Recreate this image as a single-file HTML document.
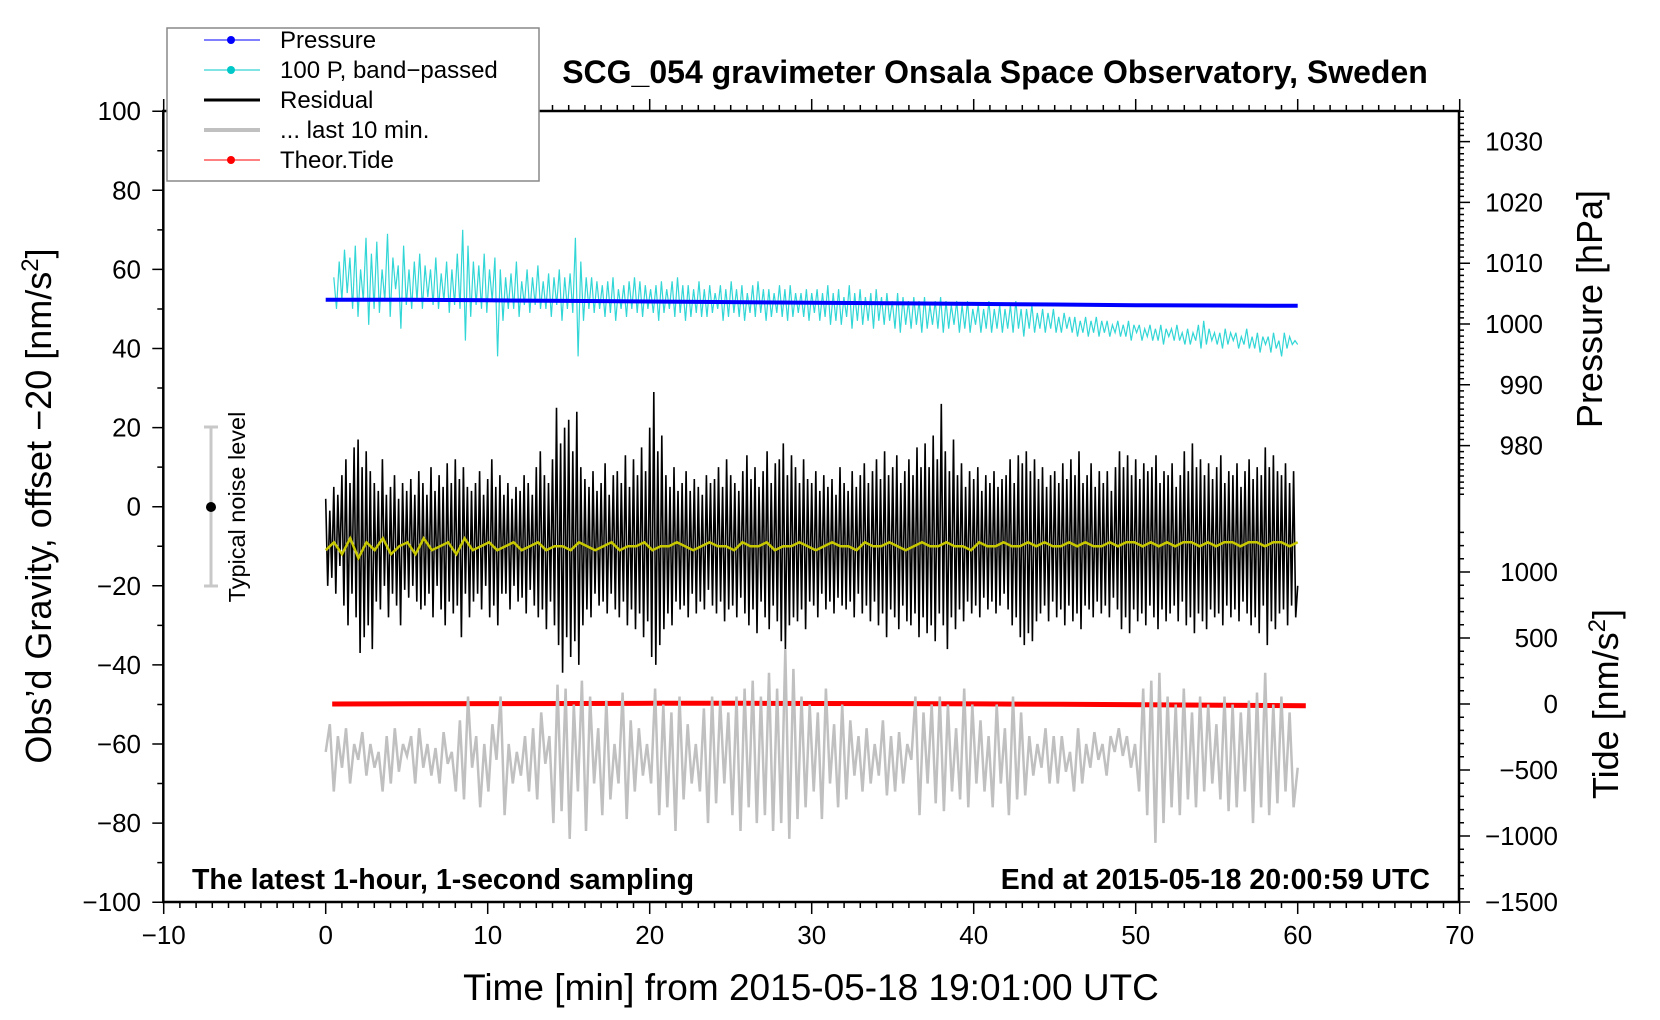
<!DOCTYPE html>
<html><head><meta charset="utf-8"><style>
html,body{margin:0;padding:0;background:#fff;}
svg{display:block;font-family:"Liberation Sans",Arial,sans-serif;}
</style></head><body>
<svg id="chart" width="1660" height="1020" viewBox="0 0 1660 1020">
<g id="marks"></g>
<g id="axes"></g>
<text x="995" y="83" font-size="32" font-weight="bold" text-anchor="middle">SCG_054 gravimeter Onsala Space Observatory, Sweden</text>
<text x="192" y="889" font-size="28.5" font-weight="bold">The latest 1-hour, 1-second sampling</text>
<text x="1430" y="889" font-size="28.5" font-weight="bold" text-anchor="end">End at 2015-05-18 20:00:59 UTC</text>
<text x="811" y="1000" font-size="37" text-anchor="middle">Time [min] from 2015-05-18 19:01:00 UTC</text>
<text transform="translate(51,506) rotate(-90)" font-size="36" text-anchor="middle">Obs’d Gravity, offset −20 [nm/s<tspan font-size="24" dy="-13">2</tspan><tspan dy="13">]</tspan></text>
<text transform="translate(1602,309) rotate(-90)" font-size="36" text-anchor="middle">Pressure [hPa]</text>
<text transform="translate(1618,704) rotate(-90)" font-size="36" text-anchor="middle">Tide [nm/s<tspan font-size="24" dy="-13">2</tspan><tspan dy="13">]</tspan></text>
<g>
<line x1="211" y1="427" x2="211" y2="586" stroke="#c8c8c8" stroke-width="3"/>
<line x1="204" y1="427" x2="218" y2="427" stroke="#c8c8c8" stroke-width="3"/>
<line x1="204" y1="586" x2="218" y2="586" stroke="#c8c8c8" stroke-width="3"/>
<circle cx="211" cy="507" r="5" fill="#000"/>
<text transform="translate(245,507) rotate(-90)" font-size="23.5" text-anchor="middle">Typical noise level</text>
</g>
<g>
<rect x="167" y="28" width="372" height="153" fill="#fff" stroke="#888" stroke-width="1.5"/>
<g><line x1="204" y1="40" x2="260" y2="40" stroke="#0000ff" stroke-width="1"/><circle cx="231" cy="40" r="4" fill="#0000ff"/><text x="280" y="48" font-size="24">Pressure</text></g>
<g><line x1="204" y1="70" x2="260" y2="70" stroke="#00c8c8" stroke-width="1"/><circle cx="231" cy="70" r="4" fill="#00c8c8"/><text x="280" y="78" font-size="24">100 P, band−passed</text></g>
<g><line x1="204" y1="100" x2="260" y2="100" stroke="#000" stroke-width="3"/><text x="280" y="108" font-size="24">Residual</text></g>
<g><line x1="204" y1="130" x2="260" y2="130" stroke="#c0c0c0" stroke-width="4"/><text x="280" y="138" font-size="24">... last 10 min.</text></g>
<g><line x1="204" y1="160" x2="260" y2="160" stroke="#ff0000" stroke-width="1"/><circle cx="231" cy="160" r="4" fill="#ff0000"/><text x="280" y="168" font-size="24">Theor.Tide</text></g>
</g>
</svg>
<script>
const xTicks=[-10,0,10,20,30,40,50,60,70];
const yTicks=[-100,-80,-60,-40,-20,0,20,40,60,80,100];
const pTicks=[980,990,1000,1010,1020,1030];
const tTicks=[-1500,-1000,-500,0,500,1000];
const residual=[2,-20,-1,-18,5,-22,3,-15,8,-25,12,-30,6,-22,15,-28,17,-37,10,-33,14,-30,9,-36,6,-24,4,-26,12,-20,3,-28,5,-22,8,-25,2,-30,6,-21,4,-23,7,-20,3,-24,9,-26,6,-25,3,-22,10,-28,4,-20,8,-26,5,-30,11,-24,6,-27,12,-25,7,-33,10,-22,5,-28,4,-24,6,-22,9,-26,3,-20,7,-28,12,-25,5,-30,8,-22,3,-22,6,-26,2,-20,5,-24,4,-23,8,-27,6,-21,3,-25,10,-28,14,-26,8,-31,6,-24,12,-30,25,-35,16,-42,20,-33,22,-38,14,-34,24,-40,10,-30,7,-26,5,-28,9,-22,4,-25,6,-24,11,-27,3,-22,8,-26,9,-28,6,-24,13,-30,5,-26,12,-31,8,-27,15,-33,9,-29,20,-38,29,-40,14,-35,18,-31,8,-27,5,-30,10,-24,4,-26,6,-25,9,-28,4,-22,7,-27,5,-24,3,-26,8,-21,6,-25,7,-27,10,-24,5,-29,12,-26,8,-25,6,-28,4,-23,9,-27,13,-30,7,-26,10,-32,5,-24,9,-28,14,-31,6,-25,11,-29,12,-34,16,-36,8,-30,13,-28,10,-29,6,-26,12,-31,7,-24,6,-25,9,-28,4,-22,8,-26,5,-24,7,-27,3,-23,10,-25,6,-26,4,-24,9,-28,5,-22,8,-27,11,-25,6,-29,9,-24,12,-30,7,-27,14,-33,8,-26,10,-28,13,-31,6,-25,9,-29,12,-30,8,-27,15,-33,10,-28,16,-32,10,-30,18,-34,12,-27,26,-30,14,-36,9,-28,17,-31,8,-26,11,-29,5,-24,9,-27,7,-25,10,-28,4,-23,8,-26,6,-24,9,-27,5,-25,7,-22,8,-26,12,-30,6,-28,13,-33,11,-35,14,-32,9,-34,12,-29,7,-27,10,-25,5,-29,8,-24,9,-28,6,-26,11,-30,7,-25,12,-29,8,-27,14,-31,6,-25,8,-26,11,-28,5,-24,9,-27,6,-25,9,-28,4,-23,10,-26,14,-31,10,-28,13,-32,8,-26,12,-29,7,-27,11,-30,9,-25,10,-28,13,-31,6,-26,9,-29,8,-27,11,-25,5,-29,8,-24,14,-30,9,-28,16,-32,10,-27,12,-29,8,-31,11,-26,7,-28,10,-27,13,-30,6,-25,9,-28,8,-26,11,-29,5,-24,9,-27,12,-30,7,-28,10,-32,8,-25,15,-35,10,-29,13,-31,9,-27,8,-26,11,-30,6,-25,9,-28,-20];
const lastTen=[-62,-55,-72,-58,-66,-56,-70,-60,-64,-57,-68,-60,-66,-62,-72,-58,-70,-56,-67,-60,-63,-58,-70,-56,-66,-60,-68,-61,-70,-57,-65,-62,-72,-54,-74,-48,-66,-58,-76,-60,-72,-55,-64,-48,-78,-60,-70,-62,-68,-58,-72,-56,-74,-52,-65,-58,-80,-45,-77,-46,-84,-50,-72,-44,-82,-48,-70,-56,-78,-49,-74,-60,-70,-47,-79,-54,-72,-56,-68,-60,-70,-46,-78,-50,-76,-52,-82,-48,-74,-55,-70,-60,-72,-51,-80,-48,-75,-49,-70,-52,-78,-48,-82,-46,-76,-44,-80,-48,-78,-42,-82,-46,-80,-36,-84,-41,-79,-48,-76,-50,-72,-52,-79,-46,-70,-55,-76,-50,-74,-54,-68,-58,-72,-56,-70,-60,-68,-54,-73,-58,-72,-57,-70,-60,-64,-48,-78,-52,-70,-50,-75,-48,-77,-50,-72,-56,-74,-46,-76,-50,-70,-54,-72,-58,-76,-50,-70,-56,-78,-48,-74,-52,-73,-58,-68,-60,-66,-56,-70,-58,-70,-58,-67,-62,-72,-56,-70,-60,-66,-57,-64,-60,-68,-58,-62,-56,-63,-58,-66,-60,-72,-46,-78,-44,-85,-42,-80,-48,-76,-50,-78,-46,-74,-52,-76,-48,-72,-50,-70,-55,-74,-48,-77,-50,-76,-52,-72,-49,-80,-47,-76,-42,-78,-50,-75,-48,-72,-52,-76,-66];
const bandPassed=[58,50,62,52,65,54,63,50,66,48,60,52,68,46,64,50,67,49,60,52,69,48,63,55,61,45,66,51,60,50,62,52,64,50,61,53,60,51,63,50,59,52,62,49,60,51,64,50,70,42,66,48,62,51,61,50,64,49,60,52,63,38,60,47,58,50,59,50,62,48,57,51,60,49,58,51,61,50,57,50,59,48,58,51,60,47,58,50,59,49,68,38,62,47,58,50,58,49,57,50,56,48,57,49,58,47,55,50,56,48,57,50,58,49,57,48,56,50,55,49,56,47,57,49,55,50,57,48,58,49,56,47,56,48,55,49,57,48,55,48,56,49,54,50,56,47,55,48,57,49,55,48,56,47,54,49,56,48,57,49,55,47,55,48,54,49,56,48,55,47,56,48,54,49,54,48,55,47,54,49,55,47,54,48,56,46,54,47,55,46,53,48,56,45,54,47,55,46,53,47,54,45,55,47,53,46,54,47,52,45,54,44,53,46,52,45,53,46,52,44,53,45,51,46,52,45,53,44,52,45,51,46,52,44,51,45,52,44,50,46,51,44,50,45,52,44,50,45,51,44,50,45,51,44,52,45,50,43,50,45,51,44,49,45,50,44,49,45,50,44,48,44,49,45,48,44,48,43,47,44,48,43,47,44,48,43,47,44,47,43,46,44,47,43,46,43,47,42,46,44,46,42,45,43,46,42,45,42,46,41,45,43,45,42,46,42,44,41,45,41,44,42,46,40,47,41,45,42,44,41,44,40,45,41,44,42,44,40,43,41,45,40,43,40,44,39,43,41,43,39,44,40,42,38,44,40,43,41,42,41];
const smoothed=[-11,-9,-12,-8,-13,-9,-11,-8,-12,-10,-9,-12,-8,-11,-10,-9,-12,-8,-11,-10,-9,-11,-10,-9,-11,-10,-9,-11,-10,-10,-11,-9,-10,-11,-10,-9,-11,-10,-10,-9,-11,-10,-10,-9,-10,-11,-10,-9,-10,-10,-11,-9,-10,-10,-9,-11,-10,-10,-9,-10,-11,-10,-9,-10,-10,-11,-9,-10,-10,-9,-10,-11,-10,-9,-10,-10,-9,-10,-10,-11,-9,-10,-10,-9,-10,-10,-9,-10,-9,-10,-10,-9,-10,-9,-10,-10,-9,-10,-9,-9,-10,-9,-10,-9,-10,-9,-9,-10,-9,-10,-9,-9,-10,-9,-9,-10,-9,-9,-10,-9];
const pressure=[1004.0,1004.0,1003.9,1003.8,1003.7,1003.6,1003.5,1003.4,1003.3,1003.2,1003.1,1003.05,1003.0];
const tide=[0,2,3,4,5,5,4,3,1,-2,-5,-9,-13];

const X=t=>325.7+t*16.2;
const Y=g=>506.7-g*3.955;
const YP=p=>324-(p-1000)*6.08;
const YT=v=>704-v*0.132;
const NS='http://www.w3.org/2000/svg';
const marks=document.getElementById('marks');
const axes=document.getElementById('axes');
function mk(tag,attrs,parent){const e=document.createElementNS(NS,tag);for(const k in attrs)e.setAttribute(k,attrs[k]);parent.appendChild(e);return e;}
function series(vals,t0,t1,yf){const n=vals.length;return vals.map((v,i)=>X(t0+(t1-t0)*i/(n-1)).toFixed(1)+','+yf(v).toFixed(1)).join(' ');}

let p;
p=mk('polyline',{points:series(bandPassed,0.5,60,Y),fill:'none',stroke:'#33d6d6','stroke-width':1.2},marks);


p=mk('polyline',{points:series(pressure,0,60,YP),fill:'none',stroke:'#0000ff','stroke-width':4},marks);


p=mk('polyline',{points:series(residual,0,60,Y),fill:'none',stroke:'#000','stroke-width':1.6},marks);


p=mk('polyline',{points:series(smoothed,0,60,Y),fill:'none',stroke:'#c8c800','stroke-width':2.5},marks);


p=mk('polyline',{points:series(tide,0.4,60.5,YT),fill:'none',stroke:'#ff0000','stroke-width':5},marks);


p=mk('polyline',{points:series(lastTen,0,60,Y),fill:'none',stroke:'#c0c0c0','stroke-width':2.5},marks);



const L=163.3,R=1459,T=111,B=902;
p=mk('rect',{x:L,y:T,width:R-L,height:B-T,fill:'none',stroke:'#000','stroke-width':2.5},axes);


let d='';
for(let t=-10;t<=70;t++){const x=X(t);const len=(t%10===0)?12:6;d+=`M${x},${B}v${len}M${x},${T}v${-len}`;}
for(let g=-100;g<=100;g+=10){const y=Y(g);const len=(g%20===0)?11:6;d+=`M${L},${y}h${-len}`;}
for(let pp=972;pp<=1035;pp++){const y=YP(pp);if(y<T||y>503)continue;const len=(pp%10===0)?11:5;d+=`M${R},${y}h${len}`;}
for(let v=-1500;v<=1400;v+=100){const y=YT(v);if(y<520)continue;const len=(v%500===0)?11:5;d+=`M${R},${y}h${len}`;}
p=mk('path',{d:d,stroke:'#000','stroke-width':1.5,fill:'none'},axes);


xTicks.forEach(t=>{const e=mk('text',{x:X(t),y:944,'font-size':26,'text-anchor':'middle'},axes);e.textContent=String(t).replace('-','−');

});
yTicks.forEach(g=>{const e=mk('text',{x:141,y:Y(g)+9,'font-size':26,'text-anchor':'end'},axes);e.textContent=String(g).replace('-','−');

});
pTicks.forEach(v=>{const e=mk('text',{x:1543,y:YP(v)+9,'font-size':26,'text-anchor':'end'},axes);e.textContent=String(v);

});
tTicks.forEach(v=>{const e=mk('text',{x:1558,y:YT(v)+9,'font-size':26,'text-anchor':'end'},axes);e.textContent=String(v).replace('-','−');

});
</script>
</body></html>
